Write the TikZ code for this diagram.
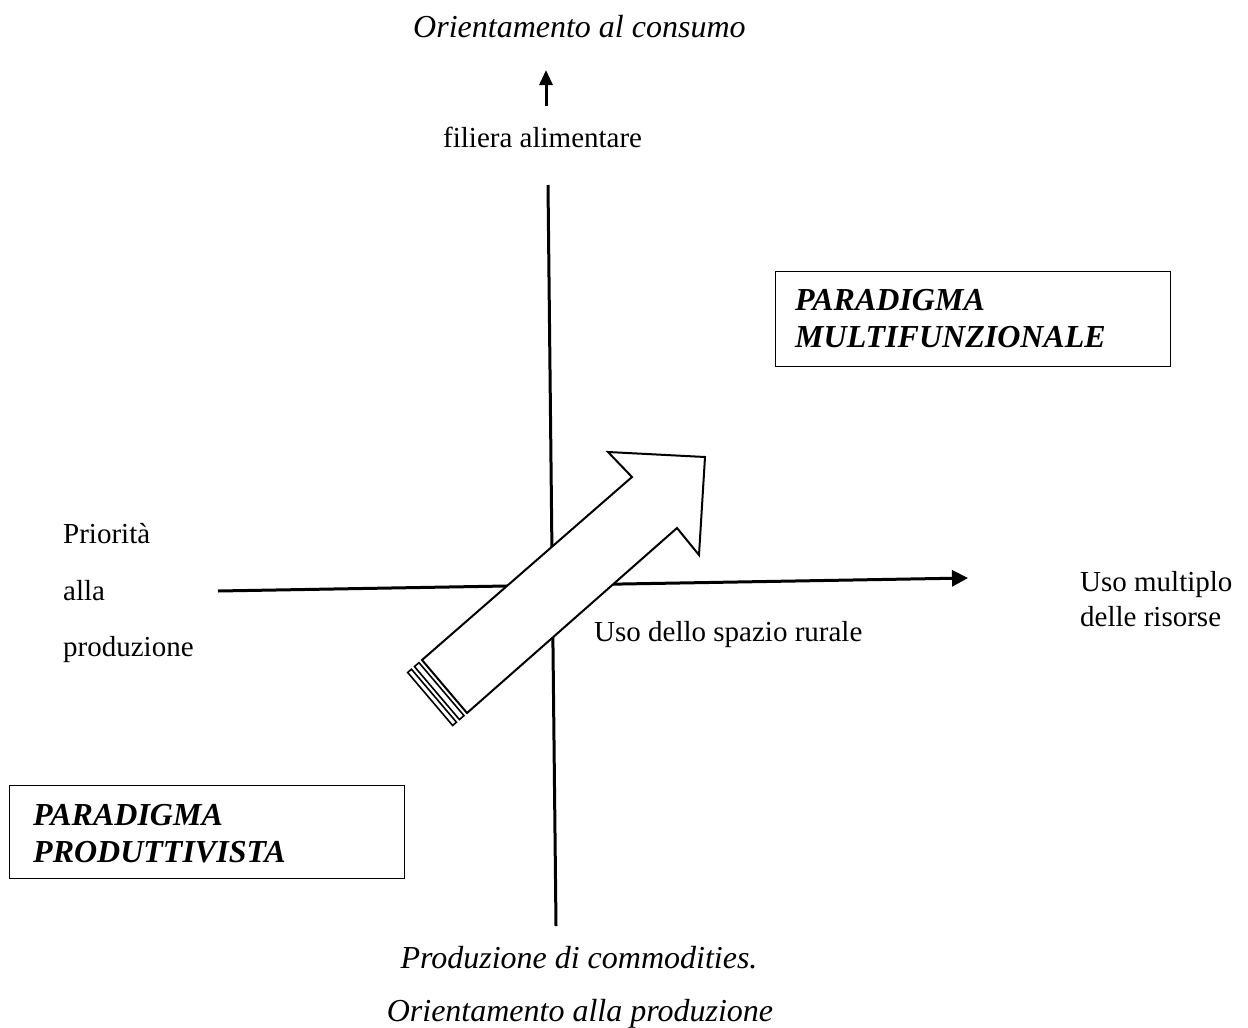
\documentclass[tikz,border=0pt]{standalone}
\usepackage{fontspec}
\setmainfont{Liberation Serif}
\usetikzlibrary{arrows.meta,calc}

\tikzset{
  lbl/.style={inner sep=0pt, anchor=base west, font=\fontsize{29}{35}\selectfont},
  ilbl/.style={inner sep=0pt, anchor=base west, font=\fontsize{32}{37}\selectfont\itshape},
  paradigm/.style={inner sep=0pt, anchor=base west, align=left,
    font=\fontsize{32}{37}\selectfont\bfseries\itshape},
  framebox/.style={draw, line width=1pt, inner sep=0pt, anchor=north west},
  axis/.style={line width=3pt},
  bigarrow/.style={draw, line width=2pt, fill=white, line join=miter},
  stripe/.style={draw, line width=1.6pt, fill=white}
}

\begin{document}
\begin{tikzpicture}[x=1pt,y=-1pt]
  \useasboundingbox (0,0) rectangle (1248,1028);

  % axis end points
  \coordinate (vtop) at (548,185);
  \coordinate (vbot) at (556,926);
  \coordinate (hleft) at (218,591);
  \coordinate (hright) at (968,578);
  \coordinate (uptail) at (546,106);
  \coordinate (uphead) at (546,70);

  % axes
  \draw[axis] (vtop) -- (vbot);
  \draw[axis, -{Triangle[length=16pt,width=16pt]}] (hleft) -- (hright);
  \draw[line width=3pt, -{Triangle[length=15pt,width=13pt]}] (uptail) -- (uphead);

  % axis labels
  \node[ilbl] (consumo) at (413,37) {Orientamento al consumo};
  \node[lbl] (filiera) at (443,147) {filiera alimentare};
  \node[lbl] (prio1) at (63,543) {Priorità};
  \node[lbl] (prio2) at (63,600) {alla};
  \node[lbl] (prio3) at (63,656) {produzione};
  \node[lbl] (uso1) at (1080,591) {Uso multiplo};
  \node[lbl] (uso2) at (1080,626) {delle risorse};
  \node[lbl] (spazio) at (594,641) {Uso dello spazio rurale};
  \node[ilbl, anchor=base] (commod) at (579,968) {Produzione di commodities.};
  \node[ilbl, anchor=base] (prodor) at (580,1021) {Orientamento alla produzione};

  % paradigm boxes
  \node[framebox, minimum width=395pt, minimum height=95pt] (multibox) at (775,271) {};
  \node[paradigm] (multi1) at (795,310) {PARADIGMA};
  \node[paradigm] (multi2) at (795,347) {MULTIFUNZIONALE};

  \node[framebox, minimum width=395pt, minimum height=93pt] (prodbox) at (9,785) {};
  \node[paradigm] (prod1) at (33,825) {PARADIGMA};
  \node[paradigm] (prod2) at (33,862) {PRODUTTIVISTA};

  % striped block arrow
  \coordinate (ta) at (422,660);
  \coordinate (tb) at (467,713);
  \draw[bigarrow] (ta) -- (632,477) -- (608,452) -- (705,457) -- (699,555)
    -- (677,528) -- (tb) -- cycle;
  \draw[stripe] ($(ta)+(-0.754*4,0.657*4)$) -- ($(tb)+(-0.754*4,0.657*4)$)
    -- ($(tb)+(-0.754*10,0.657*10)$) -- ($(ta)+(-0.754*10,0.657*10)$) -- cycle;
  \draw[stripe] ($(ta)+(-0.754*14,0.657*14)$) -- ($(tb)+(-0.754*14,0.657*14)$)
    -- ($(tb)+(-0.754*19,0.657*19)$) -- ($(ta)+(-0.754*19,0.657*19)$) -- cycle;
\end{tikzpicture}
\end{document}
